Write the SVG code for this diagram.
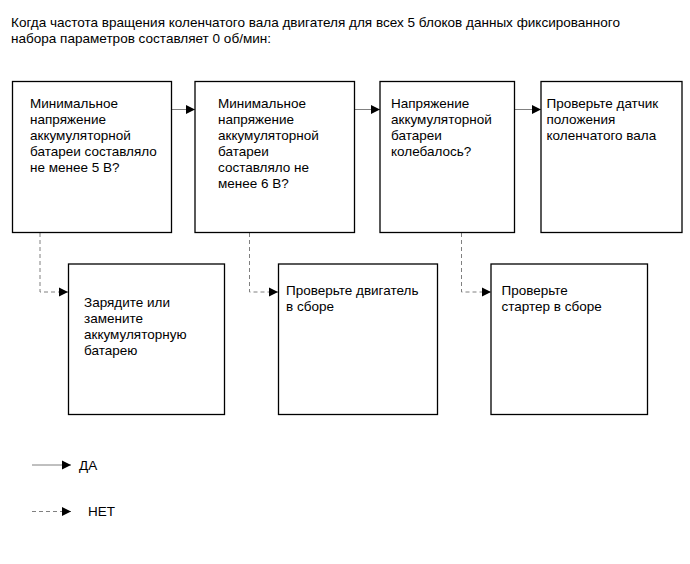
<svg xmlns="http://www.w3.org/2000/svg" width="690" height="564" viewBox="0 0 690 564">
<defs>
<marker id="ah" viewBox="0 0 10 10" refX="10" refY="5" markerWidth="9" markerHeight="10" markerUnits="userSpaceOnUse" orient="auto">
<path d="M0,0 L10,5 L0,10 Z" fill="#000"/>
</marker>
</defs>
<style>
.box{fill:#fff;stroke:#000;stroke-width:1.3}
.t{font-family:"Liberation Sans",Arial,sans-serif;font-size:13.5px;fill:#000}
.title{font-family:"Liberation Sans",Arial,sans-serif;font-size:13px;fill:#000}
.yes{fill:none;stroke:#808080;stroke-width:1}
.no{fill:none;stroke:#808080;stroke-width:1;stroke-dasharray:4,3}
</style>
<rect width="690" height="564" fill="#fff"/>
<g id="title">
<text class="title" x="11" y="27" textLength="609" lengthAdjust="spacingAndGlyphs">Когда частота вращения коленчатого вала двигателя для всех 5 блоков данных фиксированного</text>
<text class="title" x="11" y="43" textLength="260" lengthAdjust="spacingAndGlyphs">набора параметров составляет 0 об/мин:</text>
</g>
<g id="connectors">
<line class="yes" x1="172" y1="109.5" x2="195" y2="109.5" marker-end="url(#ah)"/>
<line class="yes" x1="355" y1="109.5" x2="380" y2="109.5" marker-end="url(#ah)"/>
<line class="yes" x1="515" y1="109.5" x2="541" y2="109.5" marker-end="url(#ah)"/>
<polyline class="no" points="40,233 40,292 68,292" marker-end="url(#ah)"/>
<polyline class="no" points="249.5,233 249.5,292 278,292" marker-end="url(#ah)"/>
<polyline class="no" points="461.5,233 461.5,292 491,292" marker-end="url(#ah)"/>
</g>
<g id="n1">
<rect class="box" x="12.5" y="81.5" width="159" height="151"/>
<text class="t" x="30" y="108">Минимальное</text>
<text class="t" x="30" y="124">напряжение</text>
<text class="t" x="30" y="140">аккумуляторной</text>
<text class="t" x="30" y="156">батареи составляло</text>
<text class="t" x="30" y="172">не менее 5 В?</text>
</g>
<g id="n2">
<rect class="box" x="195" y="81.5" width="159.5" height="151"/>
<text class="t" x="218" y="108">Минимальное</text>
<text class="t" x="218" y="124">напряжение</text>
<text class="t" x="218" y="140">аккумуляторной</text>
<text class="t" x="218" y="156">батареи</text>
<text class="t" x="218" y="172">составляло не</text>
<text class="t" x="218" y="188">менее 6 В?</text>
</g>
<g id="n3">
<rect class="box" x="380" y="81.5" width="134.5" height="151"/>
<text class="t" x="391" y="108">Напряжение</text>
<text class="t" x="391" y="124">аккумуляторной</text>
<text class="t" x="391" y="140">батареи</text>
<text class="t" x="391" y="156">колебалось?</text>
</g>
<g id="n4">
<rect class="box" x="541" y="81.5" width="141" height="151"/>
<text class="t" x="546.5" y="108">Проверьте датчик</text>
<text class="t" x="546.5" y="124">положения</text>
<text class="t" x="546.5" y="140">коленчатого вала</text>
</g>
<g id="n5">
<rect class="box" x="68.5" y="264" width="156" height="150.5"/>
<text class="t" x="84" y="307">Зарядите или</text>
<text class="t" x="84" y="323">замените</text>
<text class="t" x="84" y="339">аккумуляторную</text>
<text class="t" x="84" y="355">батарею</text>
</g>
<g id="n6">
<rect class="box" x="278.5" y="264" width="159" height="150.5"/>
<text class="t" x="286" y="295">Проверьте двигатель</text>
<text class="t" x="286" y="311">в сборе</text>
</g>
<g id="n7">
<rect class="box" x="491" y="264" width="156.5" height="150.5"/>
<text class="t" x="501.5" y="295">Проверьте</text>
<text class="t" x="501.5" y="311">стартер в сборе</text>
</g>
<g id="legend">
<line class="yes" x1="32" y1="465" x2="71" y2="465" marker-end="url(#ah)"/>
<text class="t" x="79" y="469.5">ДА</text>
<line class="no" x1="32" y1="511.5" x2="71" y2="511.5" marker-end="url(#ah)"/>
<text class="t" x="88" y="516">НЕТ</text>
</g>
</svg>
